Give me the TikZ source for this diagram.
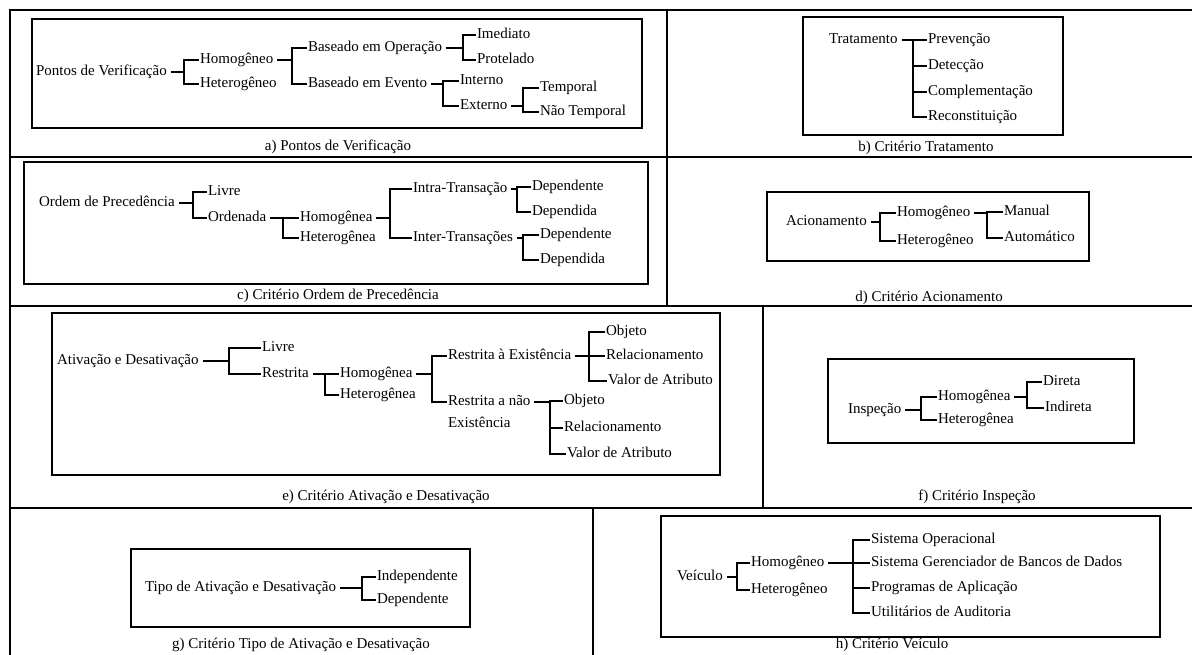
\documentclass[tikz,border=0pt]{standalone}
\usepackage{fontspec}
\setmainfont{Liberation Serif}
\usetikzlibrary{calc}

\tikzset{
  gridln/.style={line width=2.6pt, line cap=rect},
  boxln/.style={line width=1.1pt},
  ln/.style={line width=1.3pt},
  lbl/.style={anchor=west, inner sep=0.8pt, text height=11pt, text depth=3.5pt,
              font=\fontsize{15}{18}\selectfont},
  captxt/.style={anchor=center, inner sep=0pt, text height=11pt, text depth=3.5pt,
              font=\fontsize{15}{18}\selectfont}
}
% parent -> vertical bar at x of #2 -> first (#3) .. last (#4) child
\newcommand\mkbranch[4]{%
  \draw[ln] ([xshift=3pt]#1.east) -- (#1.east -| #2);
  \draw[ln] (#3.west) -- (#3.west -| #2) -- (#4.west -| #2) -- (#4.west);}
% extra middle child hanging off bar #1
\newcommand\mktwig[2]{\draw[ln] (#2.west -| #1) -- (#2.west);}

\begin{document}
\begin{tikzpicture}[x=1pt,y=-1pt]
\useasboundingbox (0,0) rectangle (1192,655);
\fill[white] (0,0) rectangle (1192,655);

% ---------- outer grid ----------
\draw[gridln] (1192,10) -- (10,10) -- (10,655);
\draw[gridln] (10,157) -- (1192,157);
\draw[gridln] (10,306) -- (1192,306);
\draw[gridln] (10,508) -- (1192,508);
\draw[gridln] (667,10) -- (667,306);
\draw[gridln] (763,306) -- (763,508);
\draw[gridln] (593,508) -- (593,655);

% ---------- a) Pontos de Verificacao ----------
\draw[boxln] (32,19) rectangle (642,128);
\node[lbl] (pv) at (35,72) {Pontos de Verificação};
\coordinate (ka1) at (184,0);
\node[lbl] (ahom) at (199,60) {Homogêneo};
\node[lbl] (ahet) at (199,84) {Heterogêneo};
\coordinate (ka2) at (292,0);
\node[lbl] (bop) at (307,48) {Baseado em Operação};
\node[lbl] (bev) at (307,84) {Baseado em Evento};
\coordinate (ka3) at (463,0);
\node[lbl] (ime) at (476,35) {Imediato};
\node[lbl] (pro) at (476,60) {Protelado};
\coordinate (ka4) at (443,0);
\node[lbl] (aint) at (459,81) {Interno};
\node[lbl] (aext) at (459,106) {Externo};
\coordinate (ka5) at (523,0);
\node[lbl] (atem) at (539,88) {Temporal};
\node[lbl] (antem) at (539,112) {Não Temporal};
\mkbranch{pv}{ka1}{ahom}{ahet}
\mkbranch{ahom}{ka2}{bop}{bev}
\mkbranch{bop}{ka3}{ime}{pro}
\mkbranch{bev}{ka4}{aint}{aext}
\mkbranch{aext}{ka5}{atem}{antem}
\node[captxt] (capa) at (338,147) {a) Pontos de Verificação};

% ---------- b) Tratamento ----------
\draw[boxln] (803,17) rectangle (1063,135);
\node[lbl] (trat) at (828,40) {Tratamento};
\coordinate (kb1) at (913,0);
\node[lbl] (prev) at (927,40) {Prevenção};
\node[lbl] (dete) at (927,66) {Detecção};
\node[lbl] (comp) at (927,92) {Complementação};
\node[lbl] (reco) at (927,117) {Reconstituição};
\mkbranch{trat}{kb1}{prev}{reco}
\mktwig{kb1}{dete}
\mktwig{kb1}{comp}
\node[captxt] (capb) at (926,148) {b) Critério Tratamento};

% ---------- c) Ordem de Precedencia ----------
\draw[boxln] (24,162) rectangle (648,284);
\node[lbl] (odp) at (38,203) {Ordem de Precedência};
\coordinate (kc1) at (193,0);
\node[lbl] (clivre) at (207,192) {Livre};
\node[lbl] (cord) at (207,218) {Ordenada};
\coordinate (kc2) at (283,0);
\node[lbl] (chom) at (299,218) {Homogênea};
\node[lbl] (chet) at (299,238) {Heterogênea};
\coordinate (kc3) at (390,0);
\node[lbl] (intra) at (412,189) {Intra-Transação};
\node[lbl] (inter) at (412,238) {Inter-Transações};
\coordinate (kc4) at (517,0);
\node[lbl] (dpa1) at (531,187) {Dependente};
\node[lbl] (dpb1) at (531,212) {Dependida};
\coordinate (kc5) at (523,0);
\node[lbl] (dpa2) at (539,235) {Dependente};
\node[lbl] (dpb2) at (539,260) {Dependida};
\mkbranch{odp}{kc1}{clivre}{cord}
\mkbranch{cord}{kc2}{chom}{chet}
\mkbranch{chom}{kc3}{intra}{inter}
\mkbranch{intra}{kc4}{dpa1}{dpb1}
\mkbranch{inter}{kc5}{dpa2}{dpb2}
\node[captxt] (capc) at (338,296) {c) Critério Ordem de Precedência};

% ---------- d) Acionamento ----------
\draw[boxln] (767,192) rectangle (1089,261);
\node[lbl] (acio) at (785,222) {Acionamento};
\coordinate (kd1) at (880,0);
\node[lbl] (dhom) at (896,213) {Homogêneo};
\node[lbl] (dhet) at (896,241) {Heterogêneo};
\coordinate (kd2) at (987,0);
\node[lbl] (manu) at (1003,212) {Manual};
\node[lbl] (auto) at (1003,238) {Automático};
\mkbranch{acio}{kd1}{dhom}{dhet}
\mkbranch{dhom}{kd2}{manu}{auto}
\node[captxt] (capd) at (929,298) {d) Critério Acionamento};

% ---------- e) Ativacao e Desativacao ----------
\draw[boxln] (52,313) rectangle (720,475);
\node[lbl] (ativ) at (56,361) {Ativação e Desativação};
\coordinate (ke1) at (229,0);
\node[lbl] (elivre) at (261,348) {Livre};
\node[lbl] (erest) at (261,374) {Restrita};
\coordinate (ke2) at (325,0);
\node[lbl] (ehom) at (339,374) {Homogênea};
\node[lbl] (ehet) at (339,395) {Heterogênea};
\coordinate (ke3) at (432,0);
\node[lbl] (rae) at (447,356) {Restrita à Existência};
\node[lbl] (rane) at (447,402) {Restrita a não};
\node[lbl] (rane2) at (447,424) {Existência};
\coordinate (ke4) at (589,0);
\node[lbl] (obj1) at (605,332) {Objeto};
\node[lbl] (rel1) at (605,356) {Relacionamento};
\node[lbl] (val1) at (607,381) {Valor de Atributo};
\coordinate (ke5) at (550,0);
\node[lbl] (obj2) at (563,401) {Objeto};
\node[lbl] (rel2) at (563,428) {Relacionamento};
\node[lbl] (val2) at (566,454) {Valor de Atributo};
\mkbranch{ativ}{ke1}{elivre}{erest}
\mkbranch{erest}{ke2}{ehom}{ehet}
\mkbranch{ehom}{ke3}{rae}{rane}
\mkbranch{rae}{ke4}{obj1}{val1}
\mktwig{ke4}{rel1}
\mkbranch{rane}{ke5}{obj2}{val2}
\mktwig{ke5}{rel2}
\node[captxt] (cape) at (386,497) {e) Critério Ativação e Desativação};

% ---------- f) Inspecao ----------
\draw[boxln] (828,359) rectangle (1134,443);
\node[lbl] (insp) at (847,410) {Inspeção};
\coordinate (kf1) at (921,0);
\node[lbl] (fhom) at (937,397) {Homogênea};
\node[lbl] (fhet) at (937,420) {Heterogênea};
\coordinate (kf2) at (1027,0);
\node[lbl] (dire) at (1042,382) {Direta};
\node[lbl] (indi) at (1044,408) {Indireta};
\mkbranch{insp}{kf1}{fhom}{fhet}
\mkbranch{fhom}{kf2}{dire}{indi}
\node[captxt] (capf) at (977,497) {f) Critério Inspeção};

% ---------- g) Tipo de Ativacao e Desativacao ----------
\draw[boxln] (131,549) rectangle (470,627);
\node[lbl] (tipo) at (144,588) {Tipo de Ativação e Desativação};
\coordinate (kg1) at (362,0);
\node[lbl] (inde) at (376,577) {Independente};
\node[lbl] (depe) at (376,600) {Dependente};
\mkbranch{tipo}{kg1}{inde}{depe}
\node[captxt] (capg) at (301,645) {g) Critério Tipo de Ativação e Desativação};

% ---------- h) Veiculo ----------
\draw[boxln] (661,516) rectangle (1160,637);
\node[lbl] (veic) at (676,577) {Veículo};
\coordinate (kh1) at (737,0);
\node[lbl] (hhom) at (750,563) {Homogêneo};
\node[lbl] (hhet) at (750,590) {Heterogêneo};
\coordinate (kh2) at (853,0);
\node[lbl] (sop) at (870,540) {Sistema Operacional};
\node[lbl] (sgbd) at (870,563) {Sistema Gerenciador de Bancos de Dados};
\node[lbl] (papl) at (870,588) {Programas de Aplicação};
\node[lbl] (uaud) at (870,613) {Utilitários de Auditoria};
\mkbranch{veic}{kh1}{hhom}{hhet}
\mkbranch{hhom}{kh2}{sop}{uaud}
\mktwig{kh2}{sgbd}
\mktwig{kh2}{papl}
\node[captxt] (caph) at (892,645) {h) Critério Veículo};
\end{tikzpicture}
\end{document}
